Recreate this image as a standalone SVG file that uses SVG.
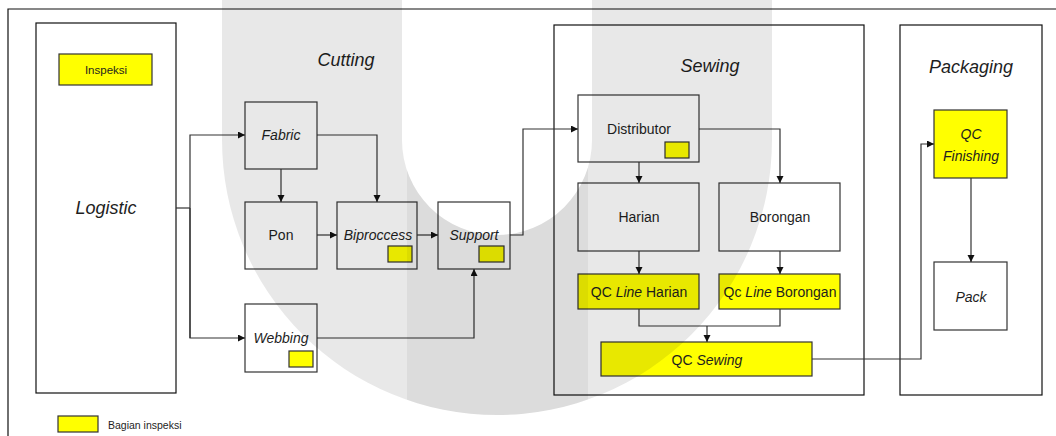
<svg xmlns="http://www.w3.org/2000/svg" width="1056" height="436" viewBox="0 0 1056 436">
<style>
text{font-family:"Liberation Sans",Arial,sans-serif;fill:#1e1e1e}
.t14{font-size:14px;text-anchor:middle}
.it{font-style:italic}
.title{font-size:18px;font-style:italic;text-anchor:middle}
.box{fill:#fff;stroke:#333;stroke-width:1.2}
.cont{fill:#fff;stroke:#111;stroke-width:1.2}
.yel{fill:#ffff00;stroke:#333;stroke-width:1.2}
.con{fill:none;stroke:#333;stroke-width:1.2}
</style>
<defs>
<marker id="ah" markerUnits="userSpaceOnUse" markerWidth="8" markerHeight="8" refX="7" refY="3.5" orient="auto">
<path d="M0,0 L7,3.5 L0,7 Z" fill="#111"/>
</marker>
<clipPath id="ring"><path d="M222,-5 L222,140 A275,275 0 0 0 772,140 L772,-5 L592,-5 L592,140 A95,95 0 0 1 402,140 L402,-5 Z"/></clipPath>
</defs>
<rect width="1056" height="436" fill="#fff"/>
<path d="M8,436 L8,9 L1056,9" fill="none" stroke="#111" stroke-width="1.2"/>

<g id="logistic">
<rect class="cont" x="36" y="23" width="140" height="370"/>
<text class="title" x="106" y="214">Logistic</text>
</g>
<g id="inspeksi">
<rect class="yel" x="59" y="54" width="93" height="31"/>
<text x="106" y="74" style="font-size:11.5px;text-anchor:middle">Inspeksi</text>
</g>
<text id="cutting" class="title" x="346" y="66">Cutting</text>

<g id="sewing-area">
<rect class="cont" x="554" y="25" width="310" height="370"/>
<text class="title" x="710" y="72">Sewing</text>
</g>
<g id="packaging-area">
<rect class="cont" x="900" y="25" width="142" height="370"/>
<text class="title" x="971" y="73">Packaging</text>
</g>

<g id="fabric">
<rect class="box" x="245" y="102" width="72" height="67"/>
<text class="t14 it" x="281" y="140">Fabric</text>
</g>
<g id="pon">
<rect class="box" x="245" y="202" width="72" height="67"/>
<text class="t14" x="281" y="240">Pon</text>
</g>
<g id="biproccess">
<rect class="box" x="337" y="202" width="80" height="67"/>
<text class="t14 it" x="378" y="240">Biproccess</text>
<rect class="yel" x="388" y="246" width="24" height="16"/>
</g>
<g id="support">
<rect class="box" x="438" y="202" width="72" height="67"/>
<text class="t14 it" x="474" y="240">Support</text>
<rect class="yel" x="479" y="246" width="25" height="16"/>
</g>
<g id="webbing">
<rect class="box" x="245" y="304" width="72" height="68"/>
<text class="t14 it" x="281" y="343">Webbing</text>
<rect class="yel" x="289" y="351" width="24" height="16"/>
</g>

<g id="distributor">
<rect class="box" x="578" y="95" width="121" height="67"/>
<text class="t14" x="639" y="134">Distributor</text>
<rect class="yel" x="665" y="142" width="24" height="16"/>
</g>
<g id="harian">
<rect class="box" x="578" y="183" width="121" height="68"/>
<text class="t14" x="639" y="222">Harian</text>
</g>
<g id="borongan">
<rect class="box" x="719" y="183" width="121" height="68"/>
<text class="t14" x="780" y="222">Borongan</text>
</g>
<g id="qc-line-harian">
<rect class="yel" x="578" y="274" width="121" height="35"/>
<text class="t14" x="639" y="297">QC <tspan class="it">Line</tspan> Harian</text>
</g>
<g id="qc-line-borongan">
<rect class="yel" x="719" y="274" width="121" height="35"/>
<text class="t14" x="780" y="297">Qc <tspan class="it">Line</tspan> Borongan</text>
</g>
<g id="qc-sewing">
<rect class="yel" x="601" y="342" width="211" height="34"/>
<text class="t14" x="707" y="365">QC <tspan class="it">Sewing</tspan></text>
</g>

<g id="qc-finishing">
<rect class="yel" x="934" y="110" width="73" height="68"/>
<text class="t14 it" x="971" y="139">QC</text>
<text class="t14 it" x="971" y="161">Finishing</text>
</g>
<g id="pack">
<rect class="box" x="934" y="262" width="73" height="68"/>
<text class="t14 it" x="971" y="302">Pack</text>
</g>

<g id="legend">
<rect class="yel" x="58" y="416" width="40" height="16"/>
<text x="108" y="429" style="font-size:10.5px">Bagian inspeksi</text>
</g>

<g id="connectors">
<polyline class="con" points="176,208 190,208"/>
<polyline class="con" points="190,338 190,135 245,135" marker-end="url(#ah)"/>
<polyline class="con" points="190,208 190,338 245,338" marker-end="url(#ah)"/>
<polyline class="con" points="281,169 281,202" marker-end="url(#ah)"/>
<polyline class="con" points="317,135 377,135 377,202" marker-end="url(#ah)"/>
<polyline class="con" points="317,235 337,235" marker-end="url(#ah)"/>
<polyline class="con" points="417,235 438,235" marker-end="url(#ah)"/>
<polyline class="con" points="317,338 474,338 474,269" marker-end="url(#ah)"/>
<polyline class="con" points="510,235 523,235 523,129 578,129" marker-end="url(#ah)"/>
<polyline class="con" points="639,162 639,183" marker-end="url(#ah)"/>
<polyline class="con" points="699,129 780,129 780,183" marker-end="url(#ah)"/>
<polyline class="con" points="639,251 639,274" marker-end="url(#ah)"/>
<polyline class="con" points="780,251 780,274" marker-end="url(#ah)"/>
<polyline class="con" points="639,309 639,326 780,326 780,309"/>
<polyline class="con" points="707,326 707,342" marker-end="url(#ah)"/>
<polyline class="con" points="812,359 921,359 921,144 934,144" marker-end="url(#ah)"/>
<polyline class="con" points="971,178 971,262" marker-end="url(#ah)"/>
</g>

<g id="watermark" clip-path="url(#ring)">
<rect x="200" y="-5" width="600" height="445" fill="#000" fill-opacity="0.09"/>
<rect x="407" y="-5" width="181" height="445" fill="#000" fill-opacity="0.05"/>
</g>
</svg>
